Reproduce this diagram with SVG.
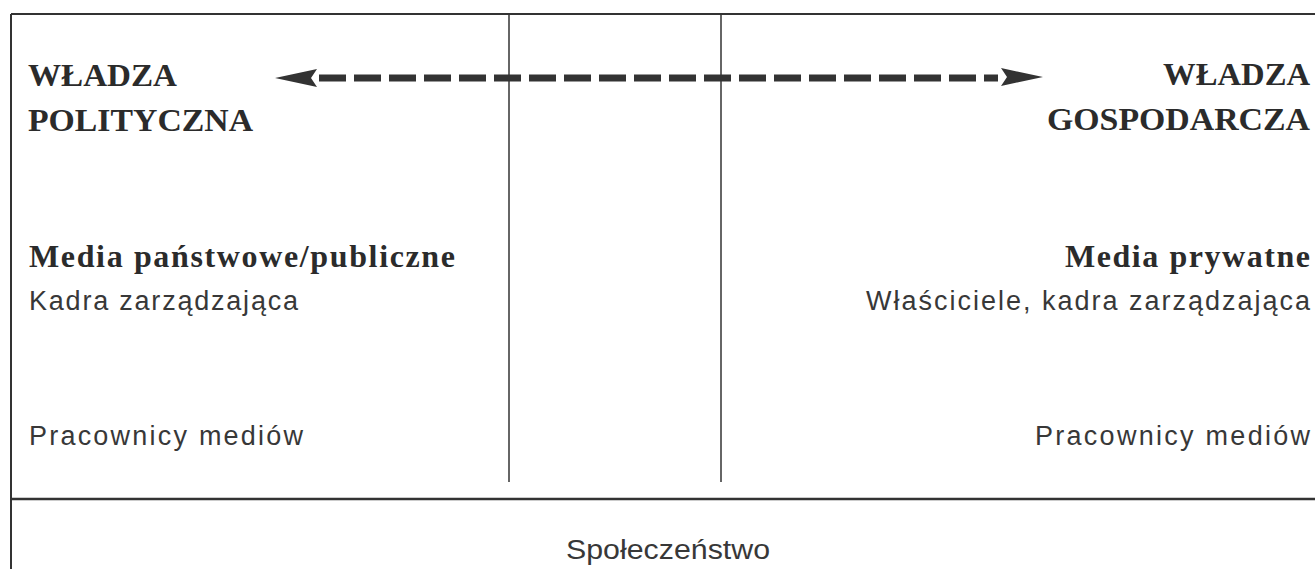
<svg xmlns="http://www.w3.org/2000/svg" width="1315" height="569" viewBox="0 0 1315 569">
<style>
.b{font-family:"Liberation Serif","Times New Roman",serif;font-weight:bold;font-size:32px;fill:#2b2b2b}
.r{font-family:"Liberation Sans",Arial,sans-serif;font-size:27px;fill:#383838}
.ln{stroke:#333;fill:none}
</style>
<rect width="1315" height="569" fill="#fff"/>
<g id="frame">
<line class="ln" x1="11" y1="14" x2="1315" y2="14" stroke-width="2"/>
<line class="ln" x1="11" y1="14" x2="11" y2="569" stroke-width="2"/>
<line class="ln" x1="11" y1="499" x2="1315" y2="499" stroke-width="2.5"/>
<line class="ln" x1="509" y1="14" x2="509" y2="482" stroke-width="1.5"/>
<line class="ln" x1="721" y1="14" x2="721" y2="482" stroke-width="1.5"/>
</g>
<g id="connectors">
<line x1="319" y1="78" x2="998" y2="78" stroke="#333" stroke-width="7" stroke-dasharray="27 8"/>
<polygon points="275,78 317,69 311,78 317,87" fill="#333"/>
<polygon points="1043,77 1001,68 1007,77 1001,86" fill="#333"/>
</g>
<g id="node-polityczna">
<text class="b" x="28" y="86" textLength="149" lengthAdjust="spacingAndGlyphs">WŁADZA</text>
<text class="b" x="28" y="131" textLength="225" lengthAdjust="spacingAndGlyphs">POLITYCZNA</text>
</g>
<g id="node-gospodarcza">
<text class="b" x="1310" y="85" text-anchor="end" textLength="147" lengthAdjust="spacingAndGlyphs">WŁADZA</text>
<text class="b" x="1310" y="130" text-anchor="end" textLength="263" lengthAdjust="spacingAndGlyphs">GOSPODARCZA</text>
</g>
<g id="node-media-publiczne">
<text class="b" x="29" y="267" textLength="426" lengthAdjust="spacing">Media państwowe/publiczne</text>
<text class="r" x="29" y="310" textLength="269" lengthAdjust="spacing">Kadra zarządzająca</text>
<text class="r" x="29" y="445" textLength="274" lengthAdjust="spacing">Pracownicy mediów</text>
</g>
<g id="node-media-prywatne">
<text class="b" x="1310" y="267" text-anchor="end" textLength="245" lengthAdjust="spacing">Media prywatne</text>
<text class="r" x="1310" y="310" text-anchor="end" textLength="444" lengthAdjust="spacing">Właściciele, kadra zarządzająca</text>
<text class="r" x="1310" y="445" text-anchor="end" textLength="275" lengthAdjust="spacing">Pracownicy mediów</text>
</g>
<g id="node-spoleczenstwo">
<text class="r" x="566" y="559" font-size="29" textLength="204" lengthAdjust="spacingAndGlyphs">Społeczeństwo</text>
</g>
</svg>
